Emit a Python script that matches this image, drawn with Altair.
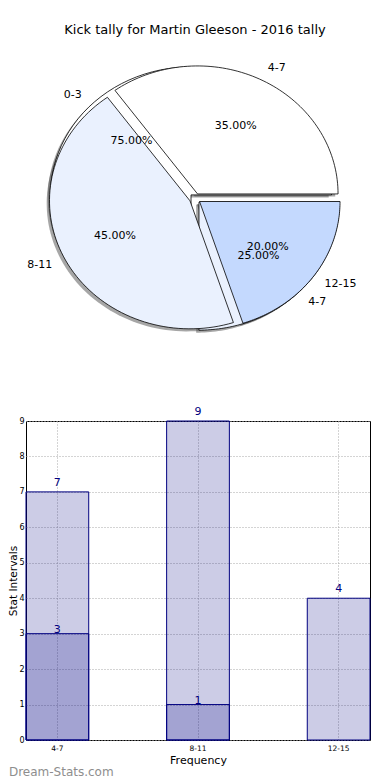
import math
import altair as alt
import pandas as pd

# ---------------- data ----------------
title_text = "Kick tally for Martin Gleeson - 2016 tally"

pie1_labels = ["4-7", "8-11", "12-15"]
pie1_values = [7, 9, 4]
pie1_colors = ["#FFFFFF", "#EAF1FE", "#C4D9FE"]

pie2_labels = ["0-3", "4-7"]
pie2_values = [3, 1]
pie2_colors = ["#FFFFFF", "#EAF1FE"]

bar_categories = ["4-7", "8-11", "12-15"]
bar_totals = [7, 9, 4]
bar_sub = [3, 1, 0]
y_ticks = [0, 1, 2, 3, 4, 5, 6, 7, 8, 9]

# ---------------- layout ----------------
FONT = "DejaVu Sans"
X0 = 26          # page x of plot left
W = 344          # plot width
BAR_TOP = 421
HB = 319         # bar plot height
SPACING = 10
HP = BAR_TOP - 8 - SPACING   # pie panel height
PIE_CX, PIE_CY = 195, 198.5  # page pixel of pie centre
RX, RY = 140.5, 128.0        # px per unit radius
EXP = 0.04
NPTS = 80

ax = -(PIE_CX - X0) / RX
bx = ax + W / RX
by = (PIE_CY - 8) / RY
ay = by - HP / RY


def wedge_rows(pie_id, labels, values, colors):
    total = sum(values)
    rows, cum = [], 0
    for lab, v, c in zip(labels, values, colors):
        rows.append(dict(pie=pie_id, label=lab, value=v, color=c,
                         start=cum / total, end=(cum + v) / total,
                         wid=f"{pie_id}:{lab}"))
        cum += v
    return rows


pie1_df = pd.DataFrame(wedge_rows(1, pie1_labels, pie1_values, pie1_colors))
pie2_df = pd.DataFrame(wedge_rows(2, pie2_labels, pie2_values, pie2_colors))
all_df = pd.concat([pie2_df, pie1_df], ignore_index=True)

xs = alt.Scale(domain=[ax, bx], nice=False, zero=False)
ys = alt.Scale(domain=[ay, by], nice=False, zero=False)


def poly(chart, shadow=False):
    off = 0.02 if shadow else 0.0
    return chart.transform_calculate(
        mid="PI * (datum.start + datum.end)",
        idx=f"sequence(0, {NPTS + 2})",
    ).transform_flatten(["idx"]).transform_calculate(
        a=f"2 * PI * (datum.start + (datum.end - datum.start) * (datum.idx - 1) / {NPTS - 1})",
        apex=f"datum.idx == 0 || datum.idx == {NPTS + 1}",
    ).transform_calculate(
        px=f"{EXP} * cos(datum.mid) + (datum.apex ? 0 : cos(datum.a)) - {off}",
        py=f"{EXP} * sin(datum.mid) + (datum.apex ? 0 : sin(datum.a)) - {off}",
    )


def enc(chart):
    return chart.encode(
        x=alt.X("px:Q", scale=xs, axis=None),
        y=alt.Y("py:Q", scale=ys, axis=None),
        order=alt.Order("idx:Q"),
        detail="wid:N",
    )


shadow = enc(poly(alt.Chart(all_df), shadow=True).mark_line(
    fill="#4d4d4d", fillOpacity=0.5, strokeWidth=0, interpolate="linear"))

pie2_layer = enc(poly(alt.Chart(pie2_df))).mark_line(
    stroke="black", strokeWidth=0.8, strokeJoin="miter").encode(
    fill=alt.Fill("color:N", scale=None))
pie1_layer = enc(poly(alt.Chart(pie1_df))).mark_line(
    stroke="black", strokeWidth=0.8, strokeJoin="miter").encode(
    fill=alt.Fill("color:N", scale=None))

lab_base = alt.Chart(all_df).transform_calculate(
    mid="PI * (datum.start + datum.end)",
).transform_calculate(
    lx=f"({EXP} + 1.1) * cos(datum.mid)",
    ly=f"({EXP} + 1.1) * sin(datum.mid)",
    tx=f"({EXP} + 0.6) * cos(datum.mid)",
    ty=f"({EXP} + 0.6) * sin(datum.mid)",
    pct="format(100 * (datum.end - datum.start), '.2f') + '%'",
)

lab_right = lab_base.transform_filter("datum.lx > 0").mark_text(
    align="left", baseline="middle", font=FONT, fontSize=11, color="black").encode(
    x=alt.X("lx:Q", scale=xs, axis=None), y=alt.Y("ly:Q", scale=ys, axis=None), text="label:N")
lab_left = lab_base.transform_filter("datum.lx <= 0").mark_text(
    align="right", baseline="middle", font=FONT, fontSize=11, color="black").encode(
    x=alt.X("lx:Q", scale=xs, axis=None), y=alt.Y("ly:Q", scale=ys, axis=None), text="label:N")
pct_text = lab_base.mark_text(
    align="center", baseline="middle", font=FONT, fontSize=11, color="black").encode(
    x=alt.X("tx:Q", scale=xs, axis=None), y=alt.Y("ty:Q", scale=ys, axis=None), text="pct:N")

title_mark = alt.Chart(pd.DataFrame({"t": [title_text]})).mark_text(
    align="center", baseline="middle", font=FONT, fontSize=13, color="black").encode(
    x=alt.value(PIE_CX - X0), y=alt.value(30 - 8), text="t:N")

pie = alt.layer(shadow, pie2_layer, pie1_layer, lab_right, lab_left, pct_text, title_mark).properties(
    width=W, height=HP, view=alt.ViewBackground(strokeWidth=0, stroke=None))

# ---------------- bars ----------------
bars_df = pd.DataFrame({"cat": bar_categories, "total": bar_totals, "sub": bar_sub})
xenc = alt.X("cat:N", sort=bar_categories,
             scale=alt.Scale(paddingInner=0.554, paddingOuter=0),
             axis=alt.Axis(title="Frequency", labelAngle=0, labelFontSize=7.5, labelFont=FONT,
                           labelColor="black", titleFont=FONT, titleFontSize=11,
                           titleFontWeight="normal", titleColor="black", titlePadding=3,
                           labelPadding=4, ticks=False, domain=False, grid=True,
                           gridDash=[1, 2], gridColor="#a8a8a8", gridWidth=1))
yscale = alt.Scale(domain=[0, 9], nice=False)
yaxis = alt.Axis(title="Stat Intervals", values=y_ticks, labelFontSize=8, labelFont=FONT,
                 labelColor="black", titleFont=FONT, titleFontSize=10.5, titleFontWeight="normal",
                 titleColor="black", titlePadding=0, labelPadding=2, ticks=False, domain=False,
                 grid=True, gridDash=[1, 2], gridColor="#a8a8a8", gridWidth=1)

bbase = alt.Chart(bars_df)
light = bbase.mark_bar(fill="#000080", fillOpacity=0.2, stroke="#000080", strokeWidth=1).encode(
    x=xenc, y=alt.Y("total:Q", scale=yscale, axis=yaxis))
dark = bbase.transform_filter("datum.sub > 0").mark_bar(
    fill="#000080", fillOpacity=0.2, stroke="#000080", strokeWidth=1).encode(
    x=xenc, y=alt.Y("sub:Q", scale=yscale, axis=yaxis))
light_txt = bbase.mark_text(baseline="middle", dy=-9, font=FONT, fontSize=11, color="#000080").encode(
    x=xenc, y=alt.Y("total:Q", scale=yscale, axis=yaxis), text="total:Q")
dark_txt = bbase.transform_filter("datum.sub > 0").mark_text(
    baseline="middle", dy=-4, font=FONT, fontSize=11, color="#000080").encode(
    x=xenc, y=alt.Y("sub:Q", scale=yscale, axis=yaxis), text="sub:Q")

bar = alt.layer(light, dark, light_txt, dark_txt).properties(
    width=W, height=HB,
    title=alt.Title("Dream-Stats.com", orient="bottom", anchor="start", frame="bounds",
                    font=FONT, fontSize=12, fontWeight="normal", color="#8e8e8e", offset=1),
    view=alt.ViewBackground(stroke="black", strokeWidth=1))

chart = alt.vconcat(pie, bar, spacing=SPACING, bounds="flush").properties(padding=0)

chart.save("out.html", embed_options={"renderer": "svg", "actions": False})
